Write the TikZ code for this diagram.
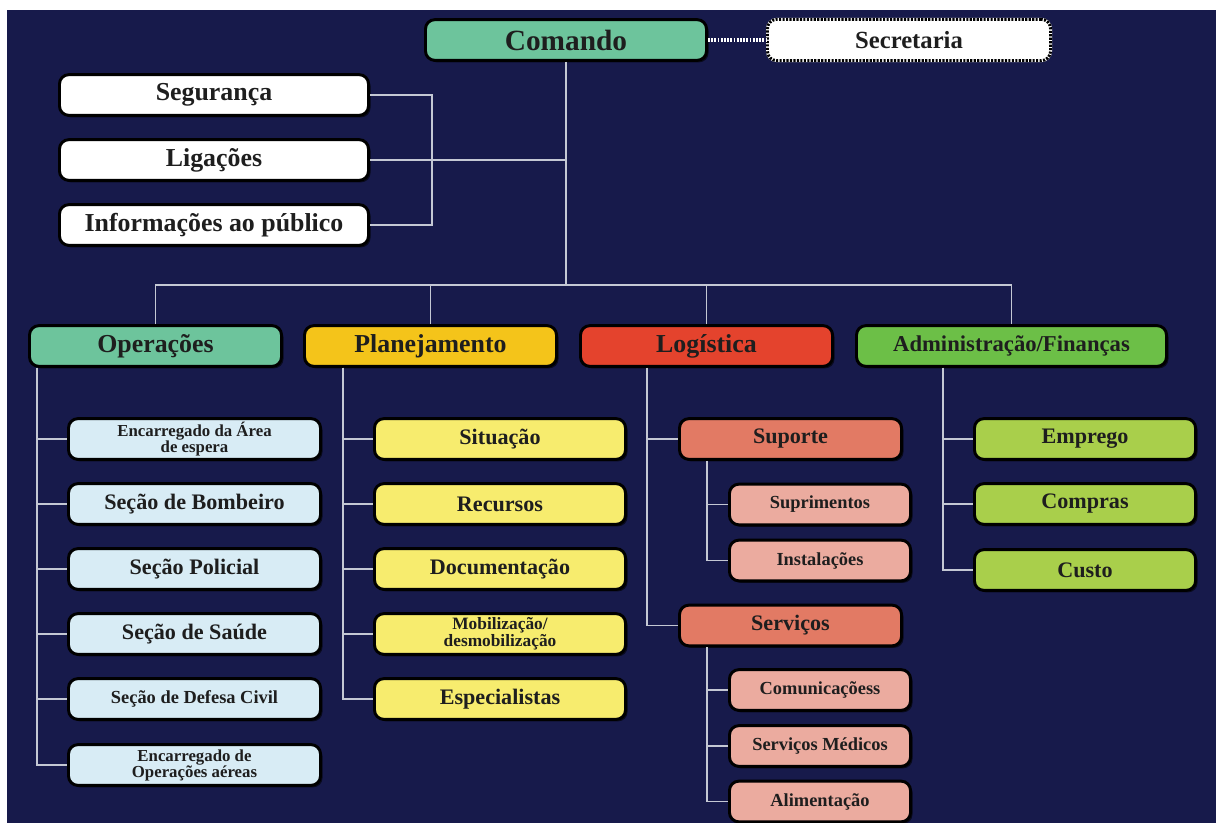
\documentclass[tikz,border=0pt]{standalone}
\usepackage{fontspec}
\setmainfont{Liberation Serif}
\usetikzlibrary{shadows}
\definecolor{navy}{HTML}{171A4B}
\definecolor{teal}{HTML}{6DC49C}
\definecolor{gold}{HTML}{F4C41A}
\definecolor{lred}{HTML}{E4432D}
\definecolor{lgreen}{HTML}{6CBF47}
\definecolor{lblue}{HTML}{D8ECF5}
\definecolor{lyellow}{HTML}{F7EC6E}
\definecolor{salmon}{HTML}{E27A64}
\definecolor{lpink}{HTML}{EBAB9F}
\definecolor{lime}{HTML}{A9CF4B}
\definecolor{linkc}{HTML}{C4C8D4}
\definecolor{ink}{HTML}{1E1E1E}
\newcommand\szT{\bfseries\fontsize{22}{24}\selectfont}
\newcommand\szS{\bfseries\fontsize{18.5}{20}\selectfont}
\newcommand\szA{\bfseries\fontsize{19.4}{21}\selectfont}
\newcommand\szF{\bfseries\fontsize{17}{19}\selectfont}
\newcommand\szB{\bfseries\fontsize{16.6}{18}\selectfont}
\newcommand\szC{\bfseries\fontsize{13.8}{15}\selectfont}
\newcommand\szD{\bfseries\fontsize{12.6}{12}\selectfont}
\newcommand\szE{\bfseries\fontsize{13}{12.7}\selectfont}
\begin{document}
\begin{tikzpicture}[x=0.75pt,y=-0.75pt,
  box/.style={draw=black,line width=2.2pt,rounded corners=7pt,inner sep=0pt,
    minimum height=30.5pt,align=center,text=ink,font=\szA,
    drop shadow={shadow xshift=1.5pt,shadow yshift=-1.5pt,fill=black,opacity=.6}},
  secbox/.style={rounded corners=7pt,inner sep=0pt,minimum height=31pt,text=ink,
    font=\szS,fill=white,draw=white,line width=2.2pt,
    postaction={draw=black,dash pattern=on 1.6pt off 1pt,line width=2.2pt}},
  wbox/.style={box,fill=white,minimum width=231.8pt},
  headbox/.style={box,minimum width=189pt},
  opbox/.style={box,fill=lblue,minimum width=189pt,font=\szB},
  plbox/.style={box,fill=lyellow,minimum width=188.3pt,font=\szB},
  lgbox/.style={box,fill=salmon,minimum width=166.5pt,font=\szB},
  lsbox/.style={box,fill=lpink,minimum width=135.8pt,font=\szC},
  adbox/.style={box,fill=lime,minimum width=165.8pt,font=\szB},
  link/.style={draw=linkc,line width=1.2pt}]
\useasboundingbox (0,0) rectangle (1216,823);
\fill[white] (0,0) rectangle (1216,823);
\fill[navy] (7,10) rectangle (1216,823);
% comando e staff
\node[box,fill=teal,minimum width=210.8pt,font=\szT] (cmd) at (566,40) {Comando};
\node[secbox,minimum width=212.3pt] (sec) at (909,40) {Secretaria};
\node[wbox] (seg) at (214,95) {Segurança};
\node[wbox] (lig) at (214,160) {Ligações};
\node[wbox] (inf) at (214,225) {Informações ao público};
% secoes
\node[headbox,fill=teal] (ops) at (155.5,346) {Operações};
\node[headbox,fill=gold] (pla) at (430.5,346) {Planejamento};
\node[headbox,fill=lred] (log) at (706.5,346) {Logística};
\node[box,fill=lgreen,minimum width=232.5pt,font=\szF] (adm) at (1011.5,346) {Administração/Finanças};
% operacoes
\foreach \n/\y/\f/\t in {o1/439/\szD/{Encarregado da Área\\de espera},
  o2/504/\szB/{Seção de Bombeiro},o3/569/\szB/{Seção Policial},
  o4/634/\szB/{Seção de Saúde},o5/699/\szC/{Seção de Defesa Civil},
  o6/765/\szD/{Encarregado de\\Operações aéreas}}
  \node[opbox,font=\f] (\n) at (194.5,\y) {\t};
% planejamento
\foreach \n/\y/\f/\t in {p1/439/\szB/{Situação},p2/504/\szB/{Recursos},
  p3/569/\szB/{Documentação},p4/634/\szE/{Mobilização/\\desmobilização},
  p5/699/\szB/{Especialistas}}
  \node[plbox,font=\f] (\n) at (500,\y) {\t};
% logistica
\node[lgbox] (sup) at (790.5,439) {Suporte};
\node[lgbox] (srv) at (790.5,625.5) {Serviços};
\node[lsbox] (u1) at (820,504.5) {Suprimentos};
\node[lsbox] (u2) at (820,560.5) {Instalações};
\node[lsbox] (v1) at (820,690) {Comunicaçõess};
\node[lsbox] (v2) at (820,746) {Serviços Médicos};
\node[lsbox] (v3) at (820,801.5) {Alimentação};
% administracao
\node[adbox] (a1) at (1085,439) {Emprego};
\node[adbox] (a2) at (1085,504) {Compras};
\node[adbox] (a3) at (1085,570) {Custo};
% ligacoes
\coordinate (bus) at (566,285);
\draw[white,line width=2.4pt,dash pattern=on 1.4pt off 1pt] (cmd.east) -- (sec.west);
\draw[link] (cmd.south) -- (bus);
\draw[link] (seg.east) -- ++(62,0) |- (inf.east);
\draw[link] (lig.east) -- (lig.east -| cmd.south);
\draw[link] (ops.north) |- (bus) -| (adm.north);
\draw[link] (pla.north) -- (pla.north |- bus);
\draw[link] (log.north) -- (log.north |- bus);
\foreach \i in {1,...,6} \draw[link] ([xshift=6.75pt]ops.south west) |- (o\i.west);
\foreach \i in {1,...,5} \draw[link] ([xshift=30pt]pla.south west) |- (p\i.west);
\foreach \n in {sup,srv} \draw[link] ([xshift=51pt]log.south west) |- (\n.west);
\foreach \n in {u1,u2} \draw[link] ([xshift=21.75pt]sup.south west) |- (\n.west);
\foreach \n in {v1,v2,v3} \draw[link] ([xshift=21.75pt]srv.south west) |- (\n.west);
\foreach \i in {1,2,3} \draw[link] ([xshift=66pt]adm.south west) |- (a\i.west);
\end{tikzpicture}
\end{document}
